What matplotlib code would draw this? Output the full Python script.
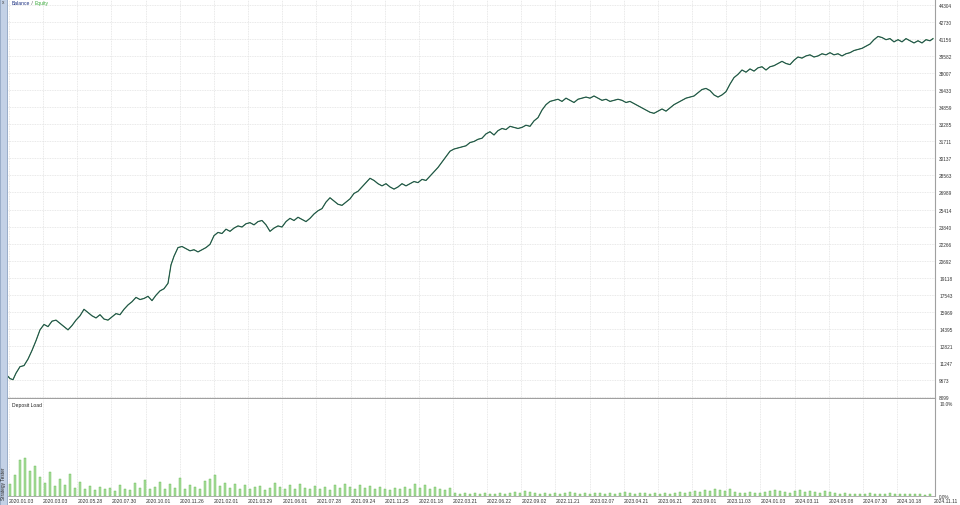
"""MT5-style Balance / Equity chart with deposit load panel."""

import matplotlib
matplotlib.use("Agg")
import matplotlib.pyplot as plt
import numpy as np

plt.rcParams["font.family"] = ["Liberation Sans", "DejaVu Sans"]

# ── data ──────────────────────────────────────────────────────────────────────
# trade index (position along the test) and balance value
trade = [0, 2, 5, 8, 12, 16, 20, 24, 28, 32, 36, 40, 44, 48, 52, 56, 60, 64, 68, 72,
         76, 80, 84, 88, 92, 96, 100, 104, 108, 112, 116, 120, 124, 128, 132, 136, 140,
         144, 148, 152, 156, 160, 163, 166, 170, 174, 178, 182, 186, 190, 194, 198, 202,
         206, 210, 214, 218, 222, 226, 230, 234, 238, 242, 246, 250, 254, 258, 262, 266,
         270, 274, 278, 282, 286, 290, 294, 298, 302, 306, 310, 314, 318, 322, 326, 330,
         334, 338, 342, 346, 350, 354, 358, 362, 366, 370, 374, 378, 382, 386, 390, 394,
         398, 402, 406, 410, 414, 418, 422, 426, 430, 434, 438, 442, 446, 450, 454, 458,
         462, 466, 470, 474, 478, 482, 486, 490, 494, 498, 502, 506, 510, 514, 518, 522,
         526, 530, 534, 538, 542, 546, 550, 554, 558, 562, 566, 570, 574, 578, 582, 586,
         590, 594, 598, 602, 606, 610, 614, 618, 622, 626, 630, 634, 638, 642, 646, 650,
         654, 658, 662, 666, 670, 674, 678, 682, 686, 690, 694, 698, 702, 706, 710, 714,
         718, 722, 726, 730, 734, 738, 742, 746, 750, 754, 758, 762, 766, 770, 774, 778,
         782, 786, 790, 794, 798, 802, 806, 810, 814, 818, 822, 826, 830, 834, 838, 842,
         846, 850, 854, 858, 862, 866, 870, 874, 878, 882, 886, 890, 894, 898, 902, 906,
         910, 914, 918, 922, 925]
balance = [10000, 9800, 9700, 10300, 10900, 11000, 11600, 12400, 13300, 14300, 14800,
           14600, 15100, 15200, 14900, 14600, 14300, 14700, 15200, 15600, 16200, 15900,
           15600, 15400, 15700, 15300, 15200, 15500, 15800, 15700, 16200, 16600, 16900,
           17300, 17100, 17200, 17400, 17000, 17500, 17900, 18100, 18600, 20300, 21100,
           21900, 22000, 21800, 21600, 21700, 21500, 21700, 21900, 22200, 23000, 23300,
           23200, 23600, 23400, 23700, 23900, 23800, 24100, 24200, 24000, 24300, 24400,
           24000, 23400, 23700, 23900, 23800, 24300, 24600, 24400, 24700, 24500, 24300,
           24600, 25000, 25300, 25500, 26100, 26500, 26200, 25900, 25800, 26100, 26400,
           26900, 27100, 27500, 27900, 28300, 28100, 27800, 27600, 27800, 27500, 27300,
           27500, 27800, 27600, 27800, 28000, 27900, 28200, 28100, 28500, 28900, 29300,
           29800, 30300, 30800, 31000, 31100, 31200, 31300, 31600, 31700, 31900, 32000,
           32400, 32600, 32300, 32700, 32900, 32800, 33100, 33000, 32900, 33000, 33200,
           33100, 33600, 33900, 34600, 35100, 35400, 35500, 35600, 35400, 35700, 35500,
           35300, 35600, 35700, 35800, 35700, 35900, 35700, 35500, 35600, 35400, 35500,
           35600, 35500, 35300, 35400, 35200, 35000, 34800, 34600, 34400, 34300, 34500,
           34700, 34500, 34800, 35100, 35300, 35500, 35700, 35800, 35900, 36200, 36500,
           36600, 36400, 36000, 35800, 36000, 36300, 37000, 37600, 37900, 38300, 38100,
           38400, 38200, 38500, 38600, 38300, 38600, 38700, 38900, 39100, 38900, 38800,
           39200, 39500, 39400, 39600, 39700, 39500, 39600, 39800, 39700, 39900, 39700,
           39800, 39600, 39800, 39900, 40100, 40200, 40300, 40500, 40700, 41100, 41400,
           41300, 41100, 41200, 40900, 41100, 40900, 41200, 41000, 40800, 41000, 40800,
           41100, 41000, 41200]

# deposit load in percent, one bar per block of trades
deposit_load = [
    1.3, 2.3, 3.9, 4.1, 2.7, 3.2, 2.0, 1.4, 2.6, 1.1,
    1.8, 1.2, 2.4, 0.9, 1.5, 0.8, 1.1, 0.6, 1.0, 0.7,
    0.9, 0.5, 1.2, 0.8, 0.6, 1.4, 0.9, 1.7, 0.7, 1.0,
    1.5, 0.8, 1.3, 0.9, 1.9, 0.7, 1.2, 1.0, 0.8, 1.6,
    1.8, 2.2, 1.1, 1.4, 0.9, 1.3, 0.7, 1.2, 0.8, 1.0,
    1.1, 0.6, 0.9, 1.4, 1.0, 0.7, 1.2, 0.8, 1.3, 0.9,
    0.7, 1.1, 0.8, 1.0, 0.6, 1.2, 0.9, 1.3, 1.0, 0.8,
    1.2, 0.9, 1.1, 0.7, 1.0, 0.8, 0.6, 0.9, 0.7, 1.0,
    0.8, 1.3, 0.9, 1.2, 0.7, 1.0, 0.8, 0.6, 0.9, 0.3,
    0.2, 0.3, 0.2, 0.3, 0.2, 0.3, 0.2, 0.2, 0.3, 0.2,
    0.3, 0.4, 0.3, 0.5, 0.4, 0.3, 0.2, 0.3, 0.2, 0.3,
    0.2, 0.3, 0.4, 0.3, 0.2, 0.3, 0.2, 0.3, 0.3, 0.2,
    0.3, 0.2, 0.3, 0.4, 0.3, 0.2, 0.3, 0.3, 0.2, 0.3,
    0.2, 0.3, 0.2, 0.3, 0.4, 0.3, 0.4, 0.5, 0.4, 0.6,
    0.5, 0.7, 0.6, 0.5, 0.7, 0.4, 0.3, 0.3, 0.4, 0.3,
    0.3, 0.4, 0.5, 0.6, 0.5, 0.4, 0.3, 0.5, 0.6, 0.4,
    0.5, 0.4, 0.3, 0.5, 0.4, 0.3, 0.2, 0.3, 0.2, 0.2,
    0.2, 0.2, 0.3, 0.2, 0.2, 0.2, 0.3, 0.2, 0.2, 0.2,
    0.2, 0.2, 0.2, 0.1, 0.2,
]

y_labels = ["44304", "42730", "41156", "39582", "38007", "36433", "34859", "33285",
            "31711", "30137", "28563", "26989", "25414", "23840", "22266", "20692",
            "19118", "17543", "15969", "14395", "12821", "11247", "9673", "8099"]

date_labels = ["2020.01.03", "2020.03.03", "2020.05.28", "2020.07.30", "2020.10.01",
               "2020.11.26", "2021.02.01", "2021.03.29", "2021.06.01", "2021.07.28",
               "2021.09.24", "2021.11.25", "2022.01.18", "2022.03.21", "2022.06.22",
               "2022.09.02", "2022.11.21", "2023.02.07", "2023.04.21", "2023.06.21",
               "2023.09.01", "2023.11.03", "2024.01.03", "2024.03.11", "2024.05.08",
               "2024.07.30", "2024.10.18"]
last_date = "2024.11.11"

# ── layout ────────────────────────────────────────────────────────────────────
W, H = 960, 506
fig = plt.figure(figsize=(W / 100, H / 100), dpi=100)
fig.patch.set_facecolor("white")

x_left, x_right = 8, 935
ax = fig.add_axes([x_left / W, (H - 399) / H, (x_right - x_left) / W, 399 / H])
axl = fig.add_axes([x_left / W, (H - 497) / H, (x_right - x_left) / W, 97 / H])

XMAX = 927
grid_kw = dict(color="#e2e2e2", lw=0.6, ls=(0, (1, 1)))
tick_pos = np.linspace(1, 889, len(date_labels))

# ── balance / equity ──────────────────────────────────────────────────────────
y_vals = [float(s) for s in y_labels]
ax.plot(trade, balance, color="#4a9a4a", lw=0.9, zorder=2)
ax.plot(trade, balance, color="#1a3658", lw=0.5, zorder=3)
ax.set_xlim(0, XMAX)
ax.set_ylim(8007, 44858)
ax.set_yticks(y_vals)
ax.set_yticklabels(y_labels)
ax.yaxis.tick_right()
ax.tick_params(axis="y", length=0, pad=3, labelsize=3.4, labelcolor="#333333")
ax.set_xticks(tick_pos)
ax.tick_params(axis="x", length=0, labelbottom=False)
for v in y_vals:
    ax.axhline(v, **grid_kw, zorder=0)
for t in tick_pos:
    ax.axvline(t, **grid_kw, zorder=0)
for side in ["top", "left"]:
    ax.spines[side].set_visible(False)
ax.spines["right"].set_color("#a0a0a0")
ax.spines["bottom"].set_color("#a0a0a0")
ax.spines["right"].set_linewidth(0.8)
ax.spines["bottom"].set_linewidth(0.8)

t1 = ax.text(0.004, 0.997, "Balance", transform=ax.transAxes, ha="left", va="top",
             fontsize=3.6, color="#1b2f80")
t2 = ax.annotate(" / ", xy=(1, 0), xycoords=t1, ha="left", va="bottom",
                 fontsize=3.6, color="#555555")
ax.annotate("Equity", xy=(1, 0), xycoords=t2, ha="left", va="bottom",
            fontsize=3.6, color="#3caa3c")

# ── deposit load ──────────────────────────────────────────────────────────────
bar_x = 2 + 5 * np.arange(len(deposit_load))
axl.bar(bar_x, deposit_load, width=2.6, color="#a9dc9c", edgecolor="#62bb50",
        lw=0.3, zorder=2)
axl.set_xlim(0, XMAX)
axl.set_ylim(0, 10.4)
axl.set_yticks([10, 0])
axl.set_yticklabels(["10.0%", "0.0%"])
axl.yaxis.tick_right()
axl.tick_params(axis="y", length=0, pad=3, labelsize=3.4, labelcolor="#333333")
axl.set_xticks(tick_pos)
axl.set_xticklabels(date_labels, ha="left")
axl.tick_params(axis="x", length=0, pad=1.5, labelsize=3.6, labelcolor="#333333")
for t in tick_pos:
    axl.axvline(t, **grid_kw, zorder=0)
for side in ["top", "left"]:
    axl.spines[side].set_visible(False)
axl.spines["right"].set_color("#a0a0a0")
axl.spines["bottom"].set_color("#a0a0a0")
axl.spines["right"].set_linewidth(0.8)
axl.spines["bottom"].set_linewidth(0.6)
axl.text(0.004, 0.97, "Deposit Load", transform=axl.transAxes, ha="left", va="top",
         fontsize=3.6, color="#222222")
fig.text(934 / W, (H - 502) / H, last_date, ha="left", va="center",
         fontsize=3.6, color="#333333")

# ── left tool strip ───────────────────────────────────────────────────────────
strip = plt.Rectangle((0, 0), 7 / W, 1, transform=fig.transFigure,
                      facecolor="#c3d1e6", edgecolor="#8ea3c2", lw=0.6)
fig.patches.append(strip)
fig.text(3.5 / W, (H - 484) / H, "Strategy Tester", rotation=90, ha="center",
         va="center", fontsize=3.4, color="#222222")
fig.text(3.5 / W, (H - 3) / H, "x", ha="center", va="center", fontsize=3.4,
         color="#444444")

fig.savefig("out.png", dpi=100)
